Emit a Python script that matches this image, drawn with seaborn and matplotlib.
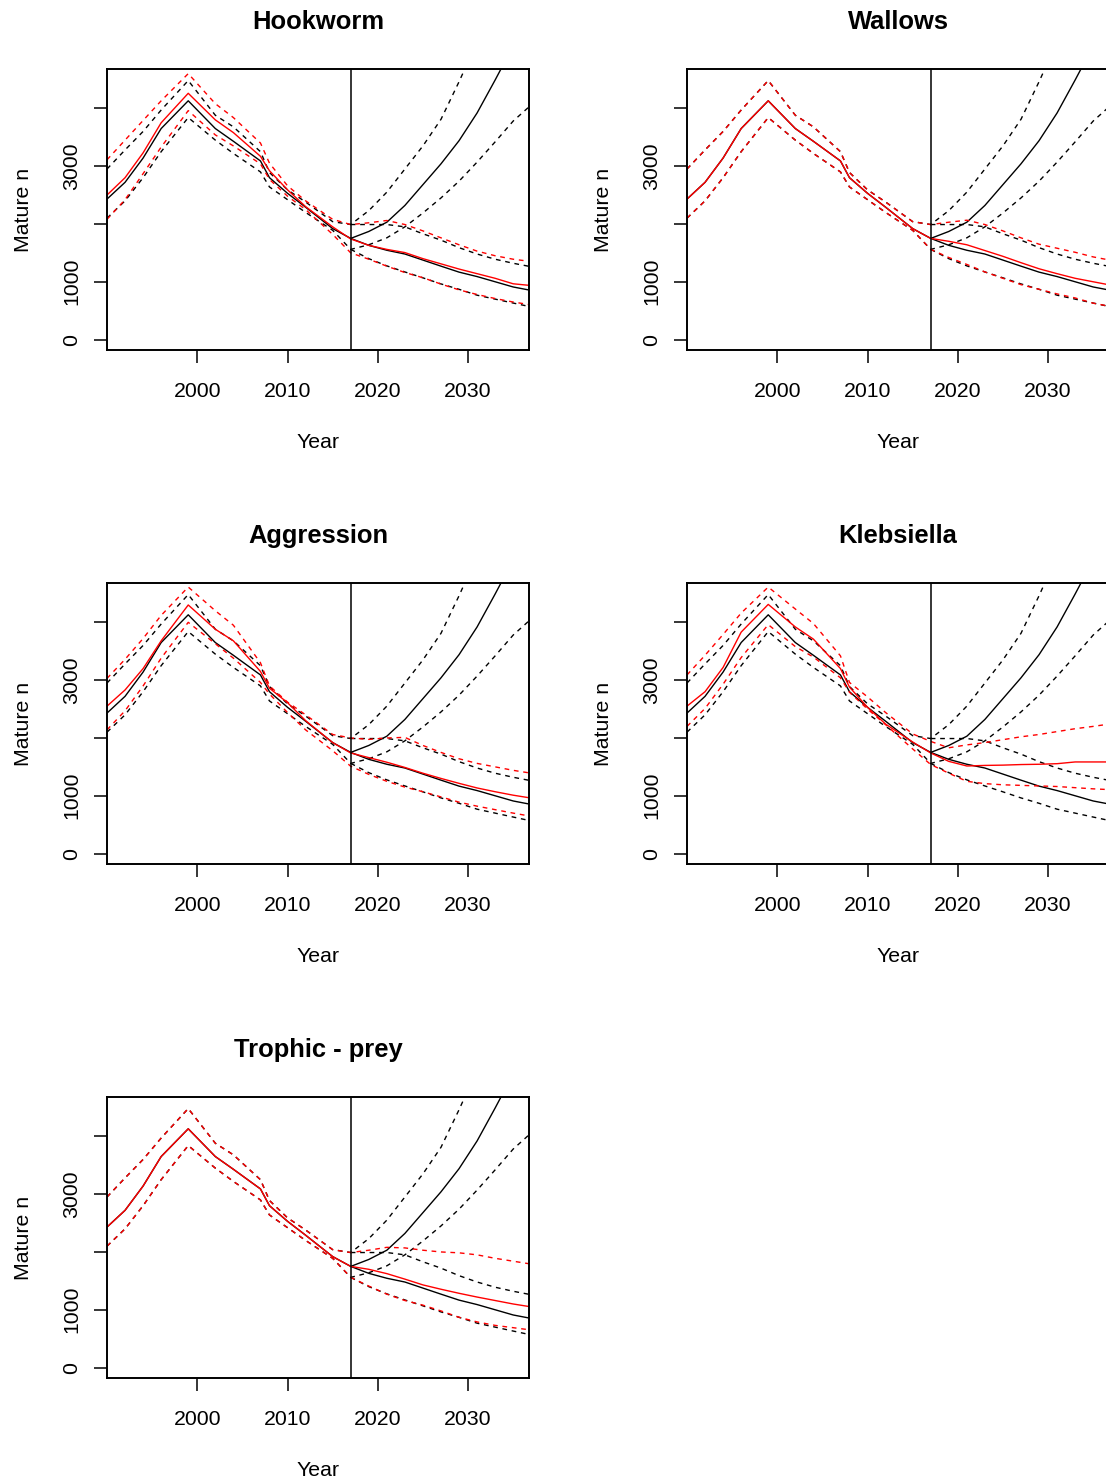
import matplotlib
matplotlib.use("Agg")
import matplotlib.pyplot as plt
import seaborn as sns

# years
HIST_YEARS = [1990, 1992, 1994, 1996, 1999, 2002, 2004, 2007, 2008, 2010, 2012, 2015, 2017]
PROJ_YEARS = [2017, 2019, 2021, 2023, 2025, 2027, 2029, 2031, 2033, 2035, 2037]
NAN = float("nan")

# black baseline, shared by every panel
BASE_MID = [2430, 2720, 3140, 3650, 4130, 3650, 3430, 3090, 2800, 2530, 2290, 1920, 1750]
BASE_HI = [2950, 3280, 3600, 3970, 4480, 3880, 3680, 3250, 2890, 2590, 2380, 2040, 1990]
BASE_LO = [2100, 2400, 2800, 3250, 3840, 3450, 3220, 2900, 2640, 2420, 2200, 1890, 1560]

UP_MID = [1770, 1870, 2030, 2320, 2680, 3040, 3440, 3920, 4490, 5080, NAN]
UP_HI = [1990, 2230, 2550, 2950, 3350, 3810, 4460, 5150, NAN, NAN, NAN]
UP_LO = [1560, 1640, 1760, 1950, 2190, 2450, 2740, 3070, 3420, 3780, 4060]

DOWN_MID = [1750, 1630, 1545, 1480, 1375, 1270, 1167, 1090, 1000, 910, 850]
DOWN_HI = [1990, 1990, 1990, 1950, 1830, 1720, 1590, 1480, 1390, 1320, 1260]
DOWN_LO = [1560, 1400, 1275, 1170, 1068, 963, 870, 768, 700, 632, 565]

# red scenario lines, one set per panel
HOOK_HIST_MID = [2500, 2800, 3230, 3750, 4260, 3800, 3580, 3170, 2920, 2590, 2300, 1950, 1740]
HOOK_HIST_HI = [3110, 3450, 3790, 4130, 4600, 4080, 3840, 3400, 3050, 2660, 2400, 2080, 1990]
HOOK_HIST_LO = [2080, 2420, 2870, 3330, 3960, 3540, 3350, 3040, 2770, 2480, 2250, 1820, 1500]
HOOK_PROJ_MID = [1740, 1630, 1560, 1505, 1400, 1310, 1220, 1140, 1060, 965, 935]
HOOK_PROJ_HI = [1990, 2020, 2060, 1990, 1880, 1760, 1640, 1530, 1450, 1390, 1350]
HOOK_PROJ_LO = [1500, 1390, 1270, 1160, 1070, 960, 860, 780, 710, 650, 600]

WALL_HIST_MID = BASE_MID
WALL_HIST_HI = BASE_HI
WALL_HIST_LO = BASE_LO
WALL_PROJ_MID = [1750, 1700, 1640, 1540, 1440, 1330, 1225, 1140, 1060, 1000, 940]
WALL_PROJ_HI = [1990, 2030, 2065, 1990, 1880, 1760, 1650, 1580, 1510, 1430, 1370]
WALL_PROJ_LO = [1560, 1420, 1300, 1170, 1060, 950, 870, 790, 720, 630, 570]

AGGR_HIST_MID = [2550, 2830, 3200, 3680, 4300, 3880, 3680, 3150, 2860, 2610, 2300, 1920, 1740]
AGGR_HIST_HI = [3030, 3360, 3720, 4120, 4610, 4200, 3950, 3300, 2900, 2620, 2400, 2060, 2000]
AGGR_HIST_LO = [2140, 2470, 2900, 3380, 4000, 3630, 3380, 2960, 2760, 2440, 2140, 1780, 1510]
AGGR_PROJ_MID = [1730, 1660, 1580, 1490, 1390, 1300, 1215, 1135, 1070, 1010, 960]
AGGR_PROJ_HI = [2000, 1975, 2000, 2010, 1870, 1750, 1640, 1560, 1500, 1440, 1390]
AGGR_PROJ_LO = [1510, 1370, 1250, 1150, 1070, 980, 890, 820, 760, 700, 645]

KLEB_HIST_MID = [2550, 2800, 3220, 3830, 4310, 3920, 3710, 3200, 2880, 2530, 2240, 1930, 1740]
KLEB_HIST_HI = [3090, 3430, 3790, 4160, 4610, 4230, 3980, 3420, 2960, 2710, 2440, 2070, 1940]
KLEB_HIST_LO = [2200, 2510, 2930, 3390, 3960, 3580, 3400, 3040, 2790, 2500, 2230, 1810, 1540]
KLEB_PROJ_MID = [1740, 1595, 1515, 1525, 1530, 1540, 1545, 1555, 1585, 1585, 1585]
KLEB_PROJ_HI = [1940, 1830, 1880, 1920, 1970, 2020, 2060, 2110, 2160, 2200, 2245]
KLEB_PROJ_LO = [1540, 1390, 1250, 1210, 1190, 1180, 1170, 1160, 1140, 1120, 1105]

TROP_HIST_MID = BASE_MID
TROP_HIST_HI = BASE_HI
TROP_HIST_LO = BASE_LO
TROP_PROJ_MID = [1770, 1700, 1625, 1530, 1430, 1355, 1285, 1220, 1160, 1100, 1050]
TROP_PROJ_HI = [1980, 2030, 2080, 2070, 2030, 2000, 1985, 1950, 1890, 1840, 1790]
TROP_PROJ_LO = [1580, 1410, 1270, 1160, 1080, 980, 870, 790, 730, 690, 650]

PANELS = [
    ("Hookworm", HOOK_HIST_MID, HOOK_HIST_LO, HOOK_HIST_HI, HOOK_PROJ_MID, HOOK_PROJ_LO, HOOK_PROJ_HI),
    ("Wallows", WALL_HIST_MID, WALL_HIST_LO, WALL_HIST_HI, WALL_PROJ_MID, WALL_PROJ_LO, WALL_PROJ_HI),
    ("Aggression", AGGR_HIST_MID, AGGR_HIST_LO, AGGR_HIST_HI, AGGR_PROJ_MID, AGGR_PROJ_LO, AGGR_PROJ_HI),
    ("Klebsiella", KLEB_HIST_MID, KLEB_HIST_LO, KLEB_HIST_HI, KLEB_PROJ_MID, KLEB_PROJ_LO, KLEB_PROJ_HI),
    ("Trophic - prey", TROP_HIST_MID, TROP_HIST_LO, TROP_HIST_HI, TROP_PROJ_MID, TROP_PROJ_LO, TROP_PROJ_HI),
]

Y_TICKS = [0, 1000, 2000, 3000, 4000]
Y_TICK_LABELS = ["0", "1000", "", "3000", ""]
X_TICKS = [2000, 2010, 2020, 2030]

sns.set_style("ticks")
plt.rcParams.update({
    "font.family": ["Liberation Sans", "DejaVu Sans"],
    "axes.linewidth": 1.4,
    "text.color": "black",
    "axes.labelcolor": "black",
    "xtick.color": "black",
    "ytick.color": "black",
    "axes.edgecolor": "black",
})

LW = 1.0
DASH = (0, (3.4, 3.4))


def draw(ax, x, y, color, dashed):
    sns.lineplot(x=x, y=y, ax=ax, color=color, linewidth=LW,
                 linestyle=DASH if dashed else "-", sort=False, estimator=None)


fig = plt.figure(figsize=(11.06, 14.81), dpi=100)

W, H = 1106, 1481
lefts = [107, 687]
tops = [69, 583, 1097]
aw, ah = 422, 281

for i, (title, h_mid, h_lo, h_hi, p_mid, p_lo, p_hi) in enumerate(PANELS):
    row, col = divmod(i, 2)
    ax = fig.add_axes([lefts[col] / W, 1 - (tops[row] + ah) / H, aw / W, ah / H])

    # baseline (black): history, rising projection, declining projection
    draw(ax, HIST_YEARS + PROJ_YEARS[1:], BASE_MID + UP_MID[1:], "black", False)
    draw(ax, HIST_YEARS + PROJ_YEARS[1:], BASE_HI + UP_HI[1:], "black", True)
    draw(ax, HIST_YEARS + PROJ_YEARS[1:], BASE_LO + UP_LO[1:], "black", True)
    draw(ax, PROJ_YEARS, DOWN_MID, "black", False)
    draw(ax, PROJ_YEARS, DOWN_HI, "black", True)
    draw(ax, PROJ_YEARS, DOWN_LO, "black", True)

    # scenario (red)
    draw(ax, HIST_YEARS + PROJ_YEARS[1:], h_mid + p_mid[1:], "red", False)
    draw(ax, HIST_YEARS + PROJ_YEARS[1:], h_hi + p_hi[1:], "red", True)
    draw(ax, HIST_YEARS + PROJ_YEARS[1:], h_lo + p_lo[1:], "red", True)

    ax.axvline(2017, color="black", linewidth=1.1, zorder=5)

    ax.set_xlim(1990, 2036.75)
    ax.set_ylim(-180, 4680)
    ax.set_xticks(X_TICKS)
    ax.set_xticklabels([str(t) for t in X_TICKS])
    ax.set_yticks(Y_TICKS)
    ax.set_yticklabels(Y_TICK_LABELS)
    ax.tick_params(axis="both", direction="out", length=9.5, width=1.1,
                   labelsize=15.3, colors="black")
    ax.tick_params(axis="x", pad=13.5)
    ax.tick_params(axis="y", pad=8.8, labelrotation=90)
    for lab in ax.get_yticklabels():
        lab.set_va("center")

    ax.set_title(title, fontsize=18.4, fontweight="bold", pad=28.5, color="black")
    ax.set_xlabel("Year", fontsize=15.3, labelpad=23, color="black")
    ax.set_ylabel("Mature n", fontsize=15.3, labelpad=21.5, color="black")
    for s in ax.spines.values():
        s.set_visible(True)
        s.set_color("black")

fig.savefig("out.png", dpi=100)
plt.close(fig)
